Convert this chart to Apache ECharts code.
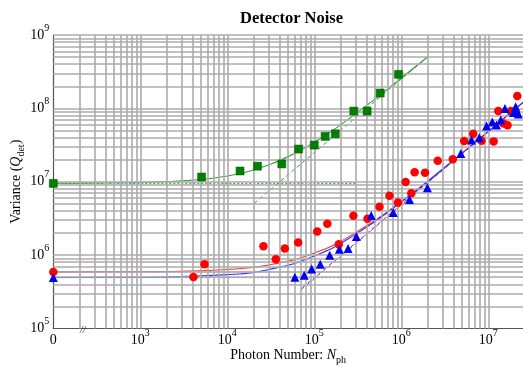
<!DOCTYPE html>
<html><head><meta charset="utf-8">
<script src="https://cdn.jsdelivr.net/npm/echarts@6/dist/echarts.min.js"></script>
<style>html,body{margin:0;padding:0;background:#fff}#c{width:523px;height:371px}</style>
</head><body><div id="c"></div>
<script>
// ---------- axis ranges ----------
const X_ZERO = 100;          // position where N = 0 is drawn (labelled "0")
const X_MAX = 2.5e7;
const Y_MIN = 1e5, Y_MAX = 1e9;
const xLabelExps = [3, 4, 5, 6, 7];
const yLabelExps = [5, 6, 7, 8, 9];

// ---------- measured data ----------
const greenN = [0, 5060, 14000, 22200, 42300, 65900, 99800, 133000, 174000, 284000, 404000, 571000, 929000];
const greenV = [9.5e6, 1.16e7, 1.40e7, 1.63e7, 1.75e7, 2.79e7, 3.16e7, 4.15e7, 4.50e7, 9.18e7, 9.18e7, 1.62e8, 2.91e8];

const redN = [0, 4080, 5470, 26000, 36100, 45800, 65200, 108000, 141000, 191000, 281000, 408000, 561000, 731000,
  914000, 1120000, 1300000, 1420000, 1870000, 2620000, 3900000, 5270000, 6700000, 8350000, 11500000,
  13000000, 14900000, 16600000, 18100000, 21500000];
const redV = [5.9e5, 5.05e5, 7.5e5, 1.32e6, 8.8e5, 1.23e6, 1.49e6, 2.1e6, 2.67e6, 1.41e6, 3.43e6, 3.12e6, 4.55e6, 6.43e6,
  5.22e6, 9.9e6, 6.98e6, 1.35e7, 1.33e7, 1.93e7, 2.03e7, 3.58e7, 4.5e7, 3.62e7, 3.55e7,
  9.18e7, 6.24e7, 5.87e7, 9.2e7, 1.47e8];

const blueN = [0, 59700, 76500, 93100, 117000, 150000, 194000, 244000, 304000, 450000, 807000, 1240000, 1990000,
  4820000, 6400000, 7850000, 9530000, 11100000, 12400000, 13900000, 15500000, 19400000, 20600000, 22100000, 21000000];
const blueV = [4.94e5, 5.0e5, 5.32e5, 6.49e5, 7.52e5, 1.0e6, 1.2e6, 1.23e6, 1.8e6, 3.47e6, 3.81e6, 5.73e6, 8.26e6,
  2.43e7, 3.7e7, 3.97e7, 5.74e7, 6.5e7, 5.92e7, 6.92e7, 1.0e8, 8.81e7, 1.05e8, 8.36e7, 9.5e7];

// ---------- fit curves ----------
const greenFitN = [0, 1e3, 5e3, 1e4, 2e4, 5e4, 1e5, 2e5, 5e5, 1e6, 2.03e6];
const greenFitV = [9.52e6, 9.75e6, 1.075e7, 1.2e7, 1.45e7, 2.2e7, 3.45e7, 5.95e7, 1.345e8, 2.595e8, 5.1e8];
const greenAsymN = [2.03e4, 2.03e6];
const greenAsymV = [5.06e6, 5.1e8];
const greenFloorN = [0, 3.0e5];
const greenFloorV = [9.5e6, 9.5e6];

const redFitN = [0, 1e3, 1e4, 3e4, 1e5, 3e5, 1e6, 3e6, 1e7, 3e7];
const redFitV = [5.905e5, 5.95e5, 6.38e5, 7.34e5, 1.07e6, 2.03e6, 5.39e6, 1.499e7, 4.859e7, 1.446e8];
const redAsymN = [7.0e4, 3e7];
const redAsymV = [3.36e5, 1.44e8];
const redFloorN = [0, 5.0e5];
const redFloorV = [5.9e5, 5.9e5];

const blueFitN = [0, 1e3, 1e4, 3e4, 1e5, 3e5, 1e6, 3e6, 1e7, 3e7];
const blueFitV = [4.945e5, 4.99e5, 5.42e5, 6.38e5, 9.74e5, 1.934e6, 5.29e6, 1.49e7, 4.85e7, 1.445e8];
const blueAsymN = [7.3e4, 3e7];
const blueAsymV = [3.6e5, 1.46e8];
const blueFloorN = [0, 5.0e5];
const blueFloorV = [4.94e5, 4.94e5];

// ---------- helpers ----------
const FONT = "'Liberation Serif','DejaVu Serif',serif";
const pts = (ns, vs) => ns.map((n, i) => [n === 0 ? X_ZERO : n, vs[i]]);
function gridValues(lo, hi) {
  const out = [];
  for (let e = lo; e < hi; e++) for (let m = 1; m <= 9; m++) {
    const v = m * Math.pow(10, e);
    if (v > Math.pow(10, lo)) out.push(v);
  }
  out.push(Math.pow(10, hi));
  return out;
}
const xGrid = gridValues(2, 7);
const yGrid = gridValues(5, 9);

const richLabel = {
  b: { fontSize: 14, fontFamily: FONT, lineHeight: 24, color: '#000' },
  sup: { fontSize: 10, fontFamily: FONT, lineHeight: 10, verticalAlign: 'top', color: '#000' }
};
function expLabel(v, allowed, zeroExp) {
  const e = Math.log10(v);
  const r = Math.round(e);
  if (Math.abs(e - r) > 1e-6) return '';
  if (zeroExp !== undefined && r === zeroExp) return '{b|0}';
  if (allowed.indexOf(r) < 0) return '';
  return '{b|10}{sup|' + r + '}';
}
const nameRich = {
  b: { fontSize: 14, fontFamily: FONT, lineHeight: 20, color: '#000' },
  i: { fontSize: 14, fontFamily: FONT, fontStyle: 'italic', lineHeight: 20, color: '#000' },
  sub: { fontSize: 10, fontFamily: FONT, lineHeight: 10, verticalAlign: 'bottom', color: '#000' }
};

const chart = echarts.init(document.getElementById('c'), null, { renderer: 'canvas' });
chart.setOption({
  animation: false,
  backgroundColor: '#fff',
  title: {
    text: 'Detector Noise', left: 235, top: 5,
    textStyle: { fontFamily: FONT, fontWeight: 'bold', fontSize: 16.5, color: '#000' }
  },
  grid: { left: 53.3, right: 0, top: 35, bottom: 42.5, containLabel: false, outerBoundsMode: 'none' },
  xAxis: {
    type: 'log', logBase: 10, min: X_ZERO, max: X_MAX,
    axisLine: { show: true, onZero: false, lineStyle: { color: '#555', width: 1.2 } },
    axisTick: { show: false }, splitLine: { show: false },
    axisLabel: {
      margin: 0, showMaxLabel: false, verticalAlign: 'top',
      formatter: v => expLabel(v, xLabelExps, 2), rich: richLabel
    },
    name: '{b|Photon Number: }{i|N}{sub|ph}', nameLocation: 'middle', nameGap: 17, nameMoveOverlap: false,
    nameTextStyle: { rich: nameRich }
  },
  yAxis: {
    type: 'log', logBase: 10, min: Y_MIN, max: Y_MAX,
    axisLine: { show: true, onZero: false, lineStyle: { color: '#555', width: 1.2 } },
    axisTick: { show: false }, splitLine: { show: false },
    axisLabel: { margin: 4, formatter: v => expLabel(v, yLabelExps), rich: richLabel },
    name: '{b|Variance (}{i|Q}{sub|det}{b|)}', nameLocation: 'middle', nameGap: 27, nameRotate: 90,
    nameMoveOverlap: false,
    nameTextStyle: { rich: nameRich }
  },
  graphic: [{
    type: 'text', left: 80, top: 325, z: 100,
    style: { text: '//', font: 'italic 10px ' + FONT, fill: '#222' }
  }],
  series: [
    {
      name: 'gridlines', type: 'line', data: [], z: 1, silent: true,
      markLine: {
        silent: true, symbol: ['none', 'none'], label: { show: false }, animation: false,
        emphasis: { disabled: true },
        lineStyle: { color: '#ababab', width: 1.6, type: 'solid', opacity: 1 },
        data: xGrid.map(v => ({ xAxis: v })).concat(yGrid.map(v => ({ yAxis: v })))
      }
    },
    // floors (dotted)
    { type: 'line', data: pts(greenFloorN, greenFloorV), symbol: 'none', z: 3, lineStyle: { color: '#3a9a3a', width: 1, type: [2, 2] } },
    { type: 'line', data: pts(redFloorN, redFloorV), symbol: 'none', z: 3, lineStyle: { color: '#ff5050', width: 1, type: [2, 2] } },
    { type: 'line', data: pts(blueFloorN, blueFloorV), symbol: 'none', z: 3, lineStyle: { color: '#5050ff', width: 1, type: [2, 2] } },
    // asymptotes (dashed)
    { type: 'line', data: pts(greenAsymN, greenAsymV), symbol: 'none', z: 3, lineStyle: { color: '#3a9a3a', width: 1, type: [4, 3] } },
    { type: 'line', data: pts(redAsymN, redAsymV), symbol: 'none', z: 3, lineStyle: { color: '#ff4040', width: 1, type: [4, 3] } },
    { type: 'line', data: pts(blueAsymN, blueAsymV), symbol: 'none', z: 3, lineStyle: { color: '#4040ff', width: 1, type: [4, 3] } },
    // fits (solid)
    { type: 'line', data: pts(greenFitN, greenFitV), symbol: 'none', smooth: true, z: 4, lineStyle: { color: '#3a9a3a', width: 1.1 } },
    { type: 'line', data: pts(redFitN, redFitV), symbol: 'none', smooth: true, z: 4, lineStyle: { color: '#ff3030', width: 1.1 } },
    { type: 'line', data: pts(blueFitN, blueFitV), symbol: 'none', smooth: true, z: 4, lineStyle: { color: '#3030ff', width: 1.1 } },
    // data
    { type: 'scatter', data: pts(greenN, greenV), symbol: 'rect', symbolSize: 8, z: 5,
      itemStyle: { color: '#008000', borderColor: '#005500', borderWidth: 0.5, opacity: 1 } },
    { type: 'scatter', data: pts(redN, redV), symbol: 'circle', symbolSize: 8.5, z: 5,
      itemStyle: { color: '#ff0000', opacity: 1 } },
    { type: 'scatter', data: pts(blueN, blueV), symbol: 'triangle', symbolSize: [9, 9], z: 6,
      itemStyle: { color: '#0000f0', opacity: 1 } }
  ]
});
</script></body></html>
